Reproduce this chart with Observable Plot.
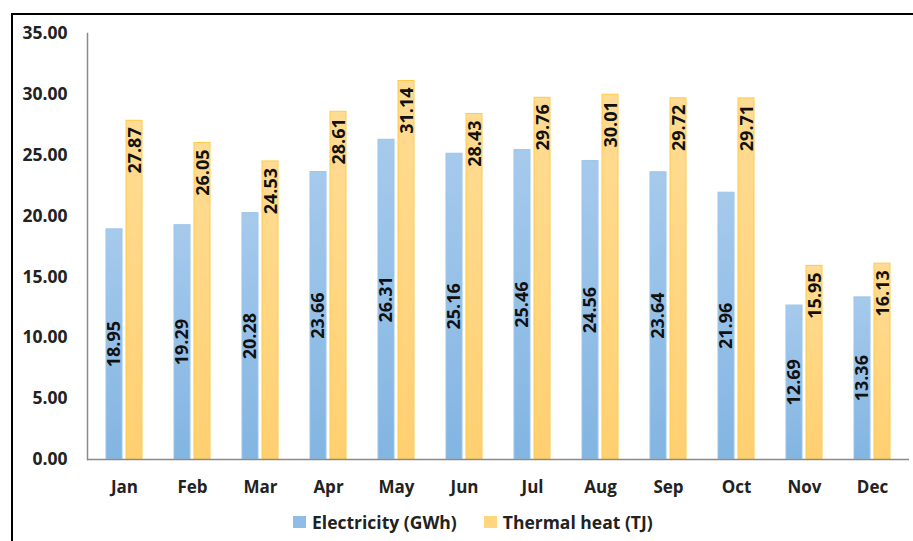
<!DOCTYPE html>
<html>
<head>
<meta charset="utf-8">
<script src="https://cdn.jsdelivr.net/npm/d3@7"></script>
<script src="https://cdn.jsdelivr.net/npm/@observablehq/plot@0.6"></script>
<style>
  html, body { margin: 0; padding: 0; background: #fff; overflow: hidden; }
  body { width: 913px; height: 541px; position: relative; font-family: "Open Sans", sans-serif; }
  #chart { position: absolute; left: 0; top: 0; }
  #frame { position: absolute; left: 11px; top: 13px; width: 960px; height: 600px;
           border: 2.5px solid #000; box-sizing: border-box; pointer-events: none; }
  #legend { position: absolute; left: 293px; top: 511px; display: flex; align-items: center;
            font-weight: bold; font-size: 17.5px; line-height: 22px; color: #222; white-space: nowrap; }
  #legend .item { display: flex; align-items: center; }
  #legend .sw { width: 13px; height: 12px; margin-right: 6px; }
</style>
</head>
<body>
<div id="chart"></div>
<div id="legend"></div>
<div id="frame"></div>
<script>
// Monthly output: electricity in GWh and thermal heat in TJ
const months = ["Jan", "Feb", "Mar", "Apr", "May", "Jun", "Jul", "Aug", "Sep", "Oct", "Nov", "Dec"];
const electricity = [18.95, 19.29, 20.28, 23.66, 26.31, 25.16, 25.46, 24.56, 23.64, 21.96, 12.69, 13.36];
const thermal = [27.87, 26.05, 24.53, 28.61, 31.14, 28.43, 29.76, 30.01, 29.72, 29.71, 15.95, 16.13];
const seriesNames = ["Electricity (GWh)", "Thermal heat (TJ)"];
const yTicks = [0, 5, 10, 15, 20, 25, 30, 35];

const elecRows = months.map((m, i) => ({month: m, value: electricity[i]}));
const heatRows = months.map((m, i) => ({month: m, value: thermal[i]}));

const fmt = d3.format(".2f");
const textColor = "#222";

const plot = Plot.plot({
  width: 913,
  height: 500,
  marginLeft: 87,
  marginRight: 4,
  marginTop: 33,
  marginBottom: 41,
  style: {background: "transparent", fontFamily: "Open Sans, sans-serif", fontWeight: "bold", fontSize: "17px", color: textColor},
  x: {domain: months, paddingInner: 0.766, paddingOuter: 0.383, label: null},
  y: {domain: [0, 35], label: null},
  marks: [
    Plot.axisY({ticks: yTicks, tickFormat: fmt, tickSize: 0, tickPadding: 20, fontSize: 17.5, fontWeight: "bold", fill: textColor}),
    Plot.axisX({tickSize: 0, tickPadding: 21, fontSize: 17, fontWeight: "bold", fill: textColor}),
    // electricity bars (left of each month) and thermal heat bars (right)
    Plot.barY(elecRows, {x: "month", y: "value", dx: -10, fill: "url(#gradElec)", stroke: "#9cc4ea", strokeWidth: 1, insetTop: 0.5}),
    Plot.barY(heatRows, {x: "month", y: "value", dx: 10, fill: "url(#gradHeat)", stroke: "#ffcb45", strokeWidth: 1, insetTop: 0.5}),
    // value labels: electricity centred in bar, thermal at the top inside the bar
    Plot.text(elecRows, {x: "month", y: d => d.value / 2, text: d => fmt(d.value), rotate: -90, dx: -10,
      fontSize: 18, fontWeight: "bold", fill: "#111"}),
    Plot.text(heatRows, {x: "month", y: "value", text: d => fmt(d.value), rotate: -90, dx: 11, dy: 7, textAnchor: "end",
      fontSize: 18, fontWeight: "bold", fill: "#111"}),
    Plot.frame({anchor: "left", stroke: "#8a8a8a", strokeWidth: 1.5}),
    Plot.ruleY([0], {stroke: "#8a8a8a", strokeWidth: 1.5})
  ]
});

// gradient fills for the bars
const ns = "http://www.w3.org/2000/svg";
const defs = document.createElementNS(ns, "defs");
function grad(id, top, bottom) {
  const g = document.createElementNS(ns, "linearGradient");
  g.setAttribute("id", id);
  g.setAttribute("x1", "0"); g.setAttribute("y1", "0");
  g.setAttribute("x2", "0"); g.setAttribute("y2", "1");
  [[0, top], [1, bottom]].forEach(([o, c]) => {
    const s = document.createElementNS(ns, "stop");
    s.setAttribute("offset", o);
    s.setAttribute("stop-color", c);
    g.appendChild(s);
  });
  defs.appendChild(g);
}
grad("gradElec", "#a6caec", "#82b5e2");
grad("gradHeat", "#ffdc94", "#ffd070");
plot.insertBefore(defs, plot.firstChild);
document.getElementById("chart").appendChild(plot);

// legend below the chart
const legendColors = ["#8fbde6", "#ffd67e"];
const legend = document.getElementById("legend");
seriesNames.forEach((name, i) => {
  const item = document.createElement("div");
  item.className = "item";
  if (i > 0) item.style.marginLeft = "27px";
  const sw = document.createElement("div");
  sw.className = "sw";
  sw.style.background = legendColors[i];
  const label = document.createElement("span");
  label.textContent = name;
  item.appendChild(sw);
  item.appendChild(label);
  legend.appendChild(item);
});
</script>
</body>
</html>
